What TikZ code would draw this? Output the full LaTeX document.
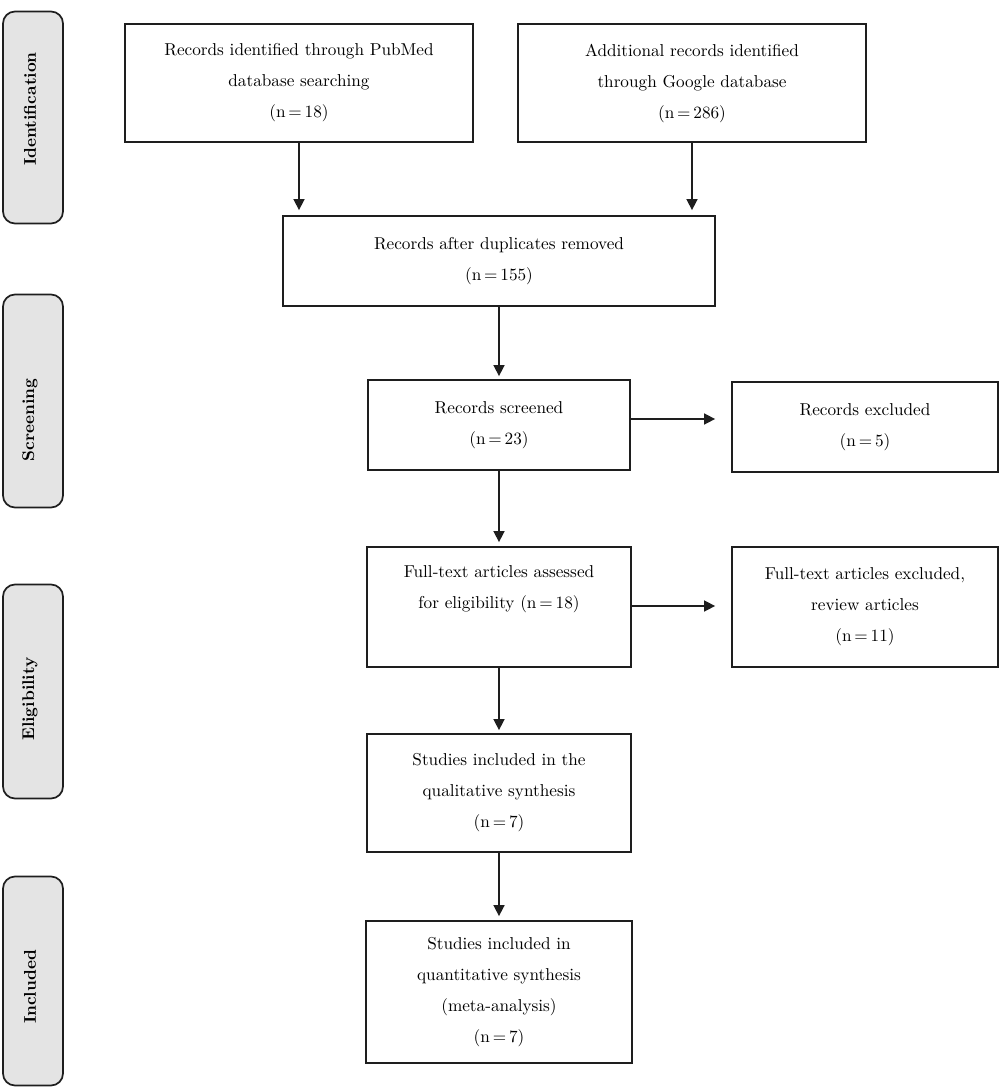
\documentclass[tikz,border=0pt]{standalone}
\usepackage{fontspec}
\newfontfamily\boxfont{lmroman10-regular.otf}
\newfontfamily\labfont{lmroman10-bold.otf}
\usetikzlibrary{arrows.meta}
\definecolor{linec}{HTML}{1E1E1E}
\definecolor{phasefill}{HTML}{E4E4E4}
\begin{document}
\begin{tikzpicture}[x=1pt,y=-1pt,
  box/.style={draw=linec,line width=1.8pt,inner sep=0pt,align=center,
    font=\boxfont\fontsize{17.2}{31}\selectfont},
  phase/.style={draw=linec,fill=phasefill,line width=1.7pt,rounded corners=12pt,
    minimum width=60pt,inner sep=0pt},
  phaselabel/.style={rotate=90,inner sep=0pt,font=\labfont\fontsize{17}{20}\selectfont},
  arr/.style={draw=linec,line width=1.6pt,-{Triangle[length=11pt,width=11pt]}}]
\useasboundingbox (0,0) rectangle (1000,1089);

% phase bars
\node[phase,minimum height=212pt] (pid) at (33,117.5) {};
\node[phase,minimum height=213pt] (psc) at (33,401) {};
\node[phase,minimum height=214pt] (pel) at (33,691.5) {};
\node[phase,minimum height=209pt] (pin) at (33,981) {};
\node[phaselabel] (tid) at (30,109) {Identification};
\node[phaselabel] (tsc) at (30,420) {Screening};
\node[phaselabel] (tel) at (30,699) {Eligibility};
\node[phaselabel] (tin) at (30,987) {Included};

% boxes
\node[box,minimum width=348pt,minimum height=118pt] (pub) at (299,83)
  {Records identified through PubMed\\database searching\\(n\,=\,18)};
\node[box,minimum width=348pt,minimum height=118pt] (goo) at (692,83)
  {Additional records identified\\through Google database\\(n\,=\,286)};
\node[box,minimum width=432pt,minimum height=90pt] (dup) at (499,261)
  {Records after duplicates removed\\(n\,=\,155)};
\node[box,minimum width=262pt,minimum height=90pt] (scr) at (499,425)
  {Records screened\\(n\,=\,23)};
\node[box,minimum width=266pt,minimum height=90pt] (ex1) at (865,427)
  {Records excluded\\(n\,=\,5)};
\node[box,minimum width=264pt,minimum height=120pt] (ful) at (499,607)
  {Full-text articles assessed\\for eligibility (n\,=\,18)\\\strut};
\node[box,minimum width=266pt,minimum height=120pt] (ex2) at (865,607)
  {Full-text articles excluded,\\review articles\\(n\,=\,11)};
\node[box,minimum width=264pt,minimum height=118pt] (qua) at (499,793)
  {Studies included in the\\qualitative synthesis\\(n\,=\,7)};
\node[box,minimum width=266pt,minimum height=142pt] (qnt) at (499,992)
  {Studies included in\\quantitative synthesis\\(meta-analysis)\\(n\,=\,7)};

% connectors
\draw[arr,shorten >=5pt] (pub.south) -- (pub.south |- dup.north);
\draw[arr,shorten >=5pt] (goo.south) -- (goo.south |- dup.north);
\draw[arr,shorten >=3pt] (dup.south) -- (dup.south |- scr.north);
\draw[arr,shorten >=16pt] ([yshift=6pt]scr.east) -- ([yshift=6pt]scr.east -| ex1.west);
\draw[arr,shorten >=4pt] (scr.south) -- (scr.south |- ful.north);
\draw[arr,shorten >=16pt] ([yshift=1pt]ful.east) -- ([yshift=1pt]ful.east -| ex2.west);
\draw[arr,shorten >=3pt] (ful.south) -- (ful.south |- qua.north);
\draw[arr,shorten >=4pt] (qua.south) -- (qua.south |- qnt.north);
\end{tikzpicture}
\end{document}
